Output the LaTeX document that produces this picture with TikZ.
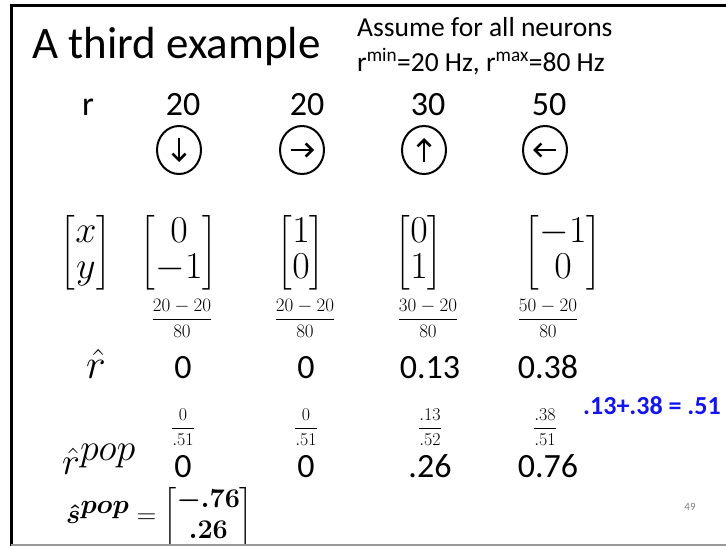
\RequirePackage{fix-cm}
\documentclass[tikz,border=0pt]{standalone}
\usepackage{amsmath}
\usepackage{fontspec}
\setmainfont{Carlito}
\usetikzlibrary{shapes.geometric,arrows.meta}
\definecolor{sumblue}{RGB}{20,20,240}
\begin{document}
\begin{tikzpicture}[x=1pt,y=-1pt,
  txt/.style={inner sep=0pt,font=\fontsize{34}{38}\selectfont},
  lab/.style={inner sep=0pt,font=\fontsize{42}{44}\selectfont},
  mat/.style={inner sep=0pt,font=\fontsize{38}{36}\selectfont},
  frc/.style={inner sep=0pt,font=\fontsize{19}{22}\selectfont},
  frcs/.style={inner sep=0pt,font=\fontsize{18}{21}\selectfont},
  dirc/.style={ellipse,draw,line width=2pt,minimum width=44pt,minimum height=48pt,inner sep=0pt},
  dirarrow/.style={line width=2.6pt,-{Straight Barb[length=6.5pt,width=13pt,line width=2.6pt]}}]
\useasboundingbox (0,0) rectangle (726,546);
\fill[white] (0,0) rectangle (726,546);
\begin{scope}
\clip (0,0) rectangle (726,544);
% title and note
\node[anchor=base west,inner sep=0pt,font=\fontsize{45}{50}\selectfont] (title) at (32,58) {A third example};
\node[anchor=base west,inner sep=0pt,font=\fontsize{27.5}{31}\selectfont] (note1) at (357,36) {Assume for all neurons};
\node[anchor=base west,inner sep=0pt,font=\fontsize{27.5}{31}\selectfont] (note2) at (357,71) {r\textsuperscript{min}=20~Hz, r\textsuperscript{max}=80~Hz};
% r row
\node[txt,anchor=base] (rlab) at (88,115) {r};
\node[txt,anchor=base] (r1) at (183,115) {20};
\node[txt,anchor=base] (r2) at (307,115) {20};
\node[txt,anchor=base] (r3) at (428,115) {30};
\node[txt,anchor=base] (r4) at (549,115) {50};
% direction circles
\node[dirc] (c1) at (179,150) {};
\node[dirc] (c2) at (302,150) {};
\node[dirc] (c3) at (424,150) {};
\node[dirc] (c4) at (545,150) {};
\draw[dirarrow] ([yshift=12pt]c1.center) -- ([yshift=-12pt]c1.center);
\draw[dirarrow] ([xshift=-11pt]c2.center) -- ([xshift=12pt]c2.center);
\draw[dirarrow] ([yshift=-12pt]c3.center) -- ([yshift=12pt]c3.center);
\draw[dirarrow] ([xshift=11pt]c4.center) -- ([xshift=-12pt]c4.center);
% vectors
\node[mat] (vxy) at (86,253) {$\begin{bmatrix}x\\y\end{bmatrix}$};
\node[mat] (v1) at (179,253) {$\begin{bmatrix}0\\-1\end{bmatrix}$};
\node[mat] (v2) at (301,253) {$\begin{bmatrix}1\\0\end{bmatrix}$};
\node[mat] (v3) at (419,253) {$\begin{bmatrix}0\\1\end{bmatrix}$};
\node[mat] (v4) at (563,253) {$\begin{bmatrix}-1\\0\end{bmatrix}$};
% normalisation fractions
\node[frc] (f1) at (182,318) {$\displaystyle\frac{20-20}{80}$};
\node[frc] (f2) at (305,318) {$\displaystyle\frac{20-20}{80}$};
\node[frc] (f3) at (428,318) {$\displaystyle\frac{30-20}{80}$};
\node[frc] (f4) at (548,318) {$\displaystyle\frac{50-20}{80}$};
% r hat row
\node[lab,anchor=base] (rhlab) at (96,378) {$\hat{r}$};
\node[txt,anchor=base] (h1) at (183,378) {0};
\node[txt,anchor=base] (h2) at (306,378) {0};
\node[txt,anchor=base] (h3) at (430,378) {0.13};
\node[txt,anchor=base] (h4) at (548,378) {0.38};
% sum
\node[inner sep=0pt,anchor=west,text=sumblue,font=\bfseries\fontsize{26}{30}\selectfont] (sum) at (583,406) {.13+.38 = .51};
% pop fractions
\node[frcs] (p1) at (183,427) {$\displaystyle\frac{0}{.51}$};
\node[frcs] (p2) at (306,427) {$\displaystyle\frac{0}{.51}$};
\node[frcs] (p3) at (430,427) {$\displaystyle\frac{.13}{.52}$};
\node[frcs] (p4) at (545,427) {$\displaystyle\frac{.38}{.51}$};
% r pop row
\node[anchor=base west,inner sep=0pt,font=\fontsize{38}{40}\selectfont] (rplab) at (62,474) {$\hat{r}^{\textstyle pop}$};
\node[txt,anchor=base] (q1) at (183,477) {0};
\node[txt,anchor=base] (q2) at (306,477) {0};
\node[txt,anchor=base] (q3) at (430,477) {.26};
\node[txt,anchor=base] (q4) at (548,477) {0.76};
% result
\node[inner sep=0pt,anchor=west,font=\fontsize{27}{31}\selectfont] (spop) at (66,517) {$\boldsymbol{\hat{s}^{\textstyle\boldsymbol{pop}}}\mathrel{=}\begin{bmatrix}\boldsymbol{-.76}\\\boldsymbol{.26}\end{bmatrix}$};
% slide number
\node[inner sep=0pt,text=gray,font=\fontsize{11}{13}\selectfont] (num) at (690,507) {49};
\end{scope}
% frame
\draw[line width=3pt] (11.5,546) -- (11.5,5.5) -- (726,5.5);
\draw[gray!80,line width=2pt] (11,545) -- (726,545);
\end{tikzpicture}
\end{document}
